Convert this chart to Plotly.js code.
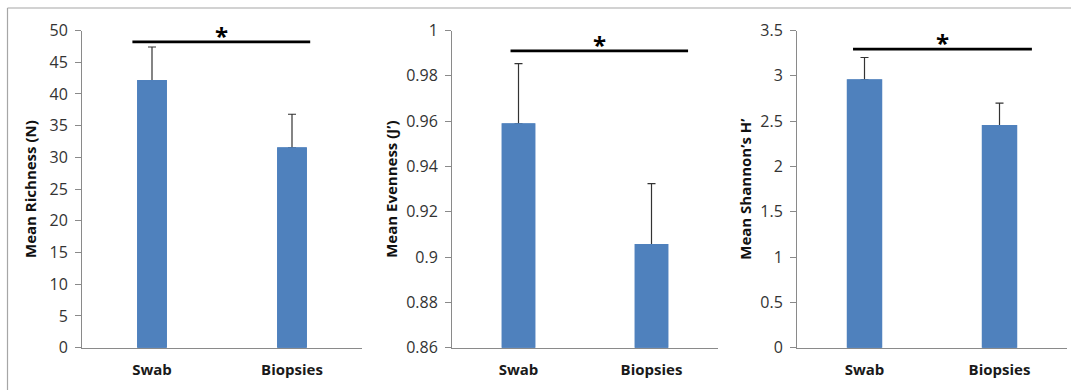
<!DOCTYPE html>
<html>
<head>
<meta charset="utf-8">
<script src="https://cdn.plot.ly/plotly-3.0.1.min.js"></script>
<style>html,body{margin:0;padding:0;background:#fff}#chart{width:1071px;height:390px}</style>
</head>
<body>
<div id="chart"></div>
<script>
// ---- data ----
var categories = ['Swab', 'Biopsies'];
var richness = [42.1, 31.5];
var richnessErr = [5.3, 5.3];
var evenness = [0.9588, 0.9055];
var evennessErr = [0.0266, 0.0269];
var shannon = [2.956, 2.451];
var shannonErr = [0.246, 0.247];
var sigLevel = [48.2, 0.991, 3.295];
var yTitles = ['Mean Richness (N)', 'Mean Evenness (J\u2019)', 'Mean Shannon\u2019s H\u2019'];

// ---- style ----
var W = 1071, H = 390;
var BAR = '#4F81BD', AX = '#8a8a8a', TXT = '#333333';
var FONT = '"Open Sans", Lato, sans-serif';
function px(x) { return x / W; }
function py(y) { return 1 - y / H; }

var panels = [
  {vals: richness, err: richnessErr, x0: 82, x1: 362, range: [0, 50], dtick: 5, bw: 0.205, span: [-0.14, 1.13], titleStand: 9},
  {vals: evenness, err: evennessErr, x0: 452, x1: 718, range: [0.86, 1], dtick: 0.02, bw: 0.246, span: [-0.06, 1.275], titleStand: 4},
  {vals: shannon, err: shannonErr, x0: 797, x1: 1067, range: [0, 3.5], dtick: 0.5, bw: 0.254, span: [-0.085, 1.24], titleStand: 4.5}
];

var traces = [], shapes = [], annotations = [];
var layout = {
  width: W, height: H,
  margin: {l: 0, r: 0, t: 0, b: 0},
  paper_bgcolor: '#fff', plot_bgcolor: '#fff',
  showlegend: false, barmode: 'overlay',
  font: {family: FONT, color: TXT}
};

panels.forEach(function (p, i) {
  var n = i === 0 ? '' : String(i + 1);
  var xa = 'x' + n, ya = 'y' + n;
  // bar carrying the error bars (its lower cap is hidden by the bar drawn over it)
  traces.push({
    type: 'bar', x: categories, y: p.vals, xaxis: xa, yaxis: ya, width: p.bw,
    marker: {color: BAR},
    error_y: {type: 'data', symmetric: false, array: p.err, arrayminus: [0, 0],
              color: '#333', thickness: 1.2, width: 4},
    hoverinfo: 'skip'
  });
  traces.push({
    type: 'bar', x: categories, y: p.vals, xaxis: xa, yaxis: ya, width: p.bw,
    marker: {color: BAR, line: {color: BAR, width: 1.2}}
  });
  layout['xaxis' + n] = {
    domain: [px(p.x0), px(p.x1)], anchor: ya, range: [-0.5, 1.5], type: 'category',
    showline: true, linecolor: AX, linewidth: 1, ticks: '', showgrid: false, zeroline: false,
    tickfont: {family: FONT, size: 15, color: '#1a1a1a', weight: 'bold'},
    ticklabelstandoff: 8, fixedrange: true
  };
  layout['yaxis' + n] = {
    domain: [py(347.7), py(30.5)], anchor: xa, range: p.range, dtick: p.dtick, tick0: 0,
    showline: true, linecolor: AX, linewidth: 1, ticks: 'outside', ticklen: 6, tickcolor: AX,
    showgrid: false, zeroline: false, ticklabelstandoff: 4,
    tickfont: {family: FONT, size: 16, color: TXT},
    title: {text: yTitles[i], font: {family: FONT, size: 15, color: '#111', weight: 'bold'}, standoff: p.titleStand},
    fixedrange: true
  };
  shapes.push({
    type: 'line', xref: xa, yref: ya, x0: p.span[0], x1: p.span[1], y0: sigLevel[i], y1: sigLevel[i],
    line: {color: '#000', width: 2.6}
  });
  annotations.push({
    xref: xa, yref: ya, x: (p.span[0] + p.span[1]) / 2, y: sigLevel[i], yanchor: 'bottom', yshift: -12,
    text: '<b>*</b>', showarrow: false, font: {family: FONT, size: 24, color: '#000'}
  });
});

// outer frame (left and top edges visible)
shapes.push({type: 'line', xref: 'paper', yref: 'paper', x0: px(7.5), x1: px(7.5), y0: py(8), y1: -0.05, line: {color: '#a6a6a6', width: 1.2}});
shapes.push({type: 'line', xref: 'paper', yref: 'paper', x0: px(7.5), x1: 1.05, y0: py(8), y1: py(8), line: {color: '#a6a6a6', width: 1.2}});

layout.shapes = shapes;
layout.annotations = annotations;

Plotly.newPlot('chart', traces, layout, {displayModeBar: false, staticPlot: true});
</script>
</body>
</html>
